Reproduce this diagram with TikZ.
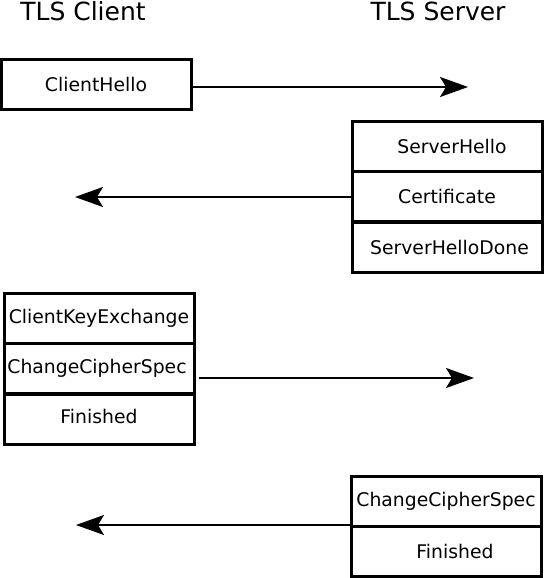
\documentclass[tikz,border=0pt]{standalone}
\usepackage{fontspec}
\setmainfont{DejaVu Sans}
\usetikzlibrary{arrows.meta}
\begin{document}
\begin{tikzpicture}[x=1pt,y=-1pt,
  msgbox/.style={draw,line width=3pt,minimum width=190pt,minimum height=50pt,inner sep=0pt,font=\fontsize{18.8}{21}\selectfont},
  ttl/.style={font=\fontsize{25}{28}\selectfont},
  msg/.style={line width=1.9pt,-{Stealth[length=28pt,width=20pt,inset=6pt]}}]
\useasboundingbox (0,0) rectangle (544,578);
\node[ttl] (tc) at (83,11) {TLS Client};
\node[ttl] (ts) at (438,11) {TLS Server};
% ClientHello
\node[msgbox] (ch) at (96,84.5) {ClientHello};
\coordinate (a1) at (468,87);
\draw[msg] (ch.east |- a1) -- (a1);
% Server flight 1
\node[msgbox] (sh) at (447,146) {\hspace*{10pt}ServerHello};
\node[msgbox] (cert) at (447,196.5) {Certificate};
\node[msgbox] (shd) at (447,247) {\hspace*{5pt}ServerHelloDone};
\coordinate (a2) at (75,197);
\draw[msg] (cert.west |- a2) -- (a2);
% Client flight 2
\node[msgbox] (cke) at (99,318) {ClientKeyExchange};
\node[msgbox] (ccs) at (99,368.5) {ChangeCipherSpec\hspace*{4pt}};
\node[msgbox] (fin) at (99,419) {Finished\vphantom{g}\raisebox{0pt}[0pt][6pt]{}};
\coordinate (a3s) at (199,378);
\coordinate (a3) at (474,378);
\draw[msg] (a3s) -- (a3);
% Server flight 2
\node[msgbox] (sccs) at (446,501) {ChangeCipherSpec};
\node[msgbox] (sfin) at (446,551) {\hspace*{18pt}Finished};
\coordinate (a4) at (76,525);
\draw[msg] (sccs.west |- a4) -- (a4);
\end{tikzpicture}
\end{document}
